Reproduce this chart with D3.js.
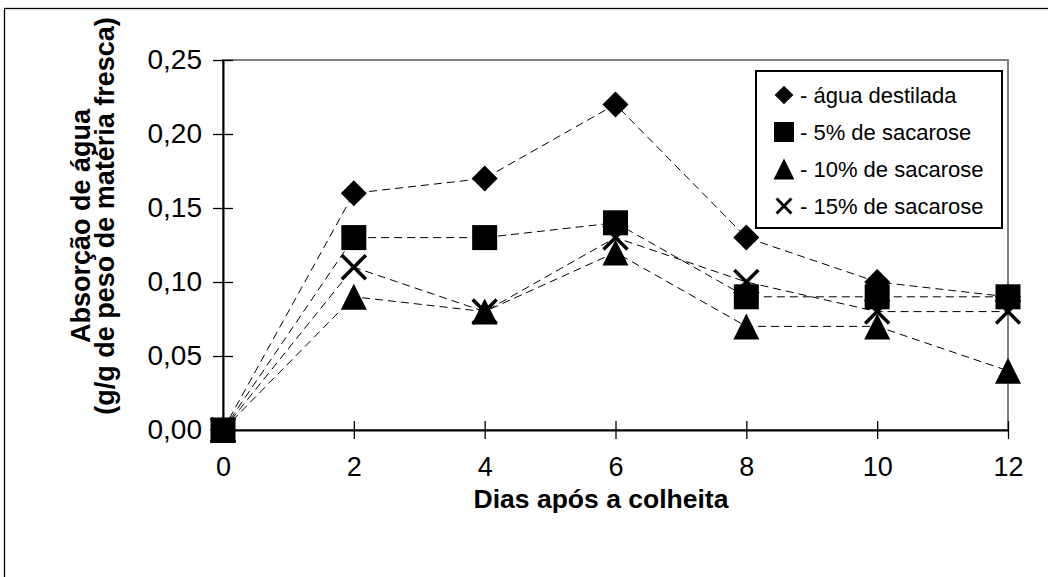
<!DOCTYPE html>
<html><head><meta charset="utf-8">
<script src="https://cdn.jsdelivr.net/npm/d3@7"></script>
<style>
html,body{margin:0;padding:0;background:#fff;}
svg{display:block;font-family:"Liberation Sans",Arial,sans-serif;}
</style></head>
<body>
<svg id="c" width="1048" height="577"></svg>
<script>
const days = [0, 2, 4, 6, 8, 10, 12];
const agua = [0, 0.16, 0.17, 0.22, 0.13, 0.10, 0.09];
const sac5 = [0, 0.13, 0.13, 0.14, 0.09, 0.09, 0.09];
const sac10 = [0, 0.09, 0.08, 0.12, 0.07, 0.07, 0.04];
const sac15 = [0, 0.11, 0.08, 0.13, 0.10, 0.08, 0.08];
const yTicks = [0, 0.05, 0.10, 0.15, 0.20, 0.25];
const xTicks = [0, 2, 4, 6, 8, 10, 12];
const seriesNames = ["- água destilada", "- 5% de sacarose", "- 10% de sacarose", "- 15% de sacarose"];
const xTitle = "Dias após a colheita";
const yTitle1 = "Absorção de água";
const yTitle2 = "(g/g de peso de matéria fresca)";

const series = [
  {name: seriesNames[0], vals: agua, sym: "diamond"},
  {name: seriesNames[1], vals: sac5, sym: "square"},
  {name: seriesNames[2], vals: sac10, sym: "triangle"},
  {name: seriesNames[3], vals: sac15, sym: "cross"}
];

const svg = d3.select("#c");
const x = d3.scaleLinear().domain([0, 12]).range([223, 1008]);
const y = d3.scaleLinear().domain([0, 0.25]).range([430, 60]);

// outer frame
svg.append("rect").attr("x", 4.5).attr("y", 8.5).attr("width", 1100).attr("height", 700)
  .attr("fill", "none").attr("stroke", "#000").attr("stroke-width", 1.3);

// plot area border (gray)
svg.append("rect").attr("x", x(0)).attr("y", y(0.25)).attr("width", x(12) - x(0)).attr("height", y(0) - y(0.25))
  .attr("fill", "none").attr("stroke", "#808080").attr("stroke-width", 2);

// axes
const yAxis = d3.axisLeft(y).tickValues(yTicks).tickSize(0).tickPadding(21)
  .tickFormat(d => d3.format(".2f")(d).replace(".", ","));
const gy = svg.append("g").attr("transform", `translate(${x(0)},0)`).call(yAxis);
gy.select(".domain").attr("stroke", "#000").attr("stroke-width", 2);
gy.selectAll(".tick text").attr("font-size", 28).attr("fill", "#000").attr("font-family", "Liberation Sans, Arial, sans-serif");
gy.selectAll(".tick").append("line").attr("x1", -10).attr("x2", 10).attr("stroke", "#000").attr("stroke-width", 1.3);

const xAxis = d3.axisBottom(x).tickValues(xTicks).tickSize(0).tickPadding(27).tickFormat(d3.format("d"));
const gx = svg.append("g").attr("transform", `translate(0,${y(0)})`).call(xAxis);
gx.select(".domain").attr("stroke", "#000").attr("stroke-width", 2);
gx.selectAll(".tick text").attr("font-size", 27).attr("fill", "#000").attr("font-family", "Liberation Sans, Arial, sans-serif");
gx.selectAll(".tick").append("line").attr("y1", -9).attr("y2", 9).attr("stroke", "#000").attr("stroke-width", 1.3);

// titles
svg.append("text").attr("x", 601).attr("y", 508).attr("text-anchor", "middle")
  .attr("font-size", 26.5).attr("font-weight", "bold").text(xTitle);
const yt = svg.append("text").attr("transform", "rotate(-90)")
  .attr("text-anchor", "middle").attr("font-weight", "bold").attr("font-size", 27);
yt.append("tspan").attr("x", -226).attr("y", 90).text(yTitle1);
yt.append("tspan").attr("x", -216).attr("y", 114).text(yTitle2);

// lines
const line = d3.line().x((d, i) => x(days[i])).y(d => y(d));
series.forEach(s => {
  svg.append("path").datum(s.vals).attr("d", line).attr("fill", "none")
    .attr("stroke", "#000").attr("stroke-width", 1).attr("stroke-dasharray", "8,5");
});

function drawSym(g, sym, cx, cy, scale) {
  const k = scale || 1;
  if (sym === "diamond") {
    const r = 13 * k;
    g.append("path").attr("d", `M${cx},${cy - r}L${cx + r},${cy}L${cx},${cy + r}L${cx - r},${cy}Z`).attr("fill", "#000");
  } else if (sym === "square") {
    const h = 12.5 * k;
    g.append("rect").attr("x", cx - h).attr("y", cy - h).attr("width", 2 * h).attr("height", 2 * h).attr("fill", "#000");
  } else if (sym === "triangle") {
    const w = 13 * k, hh = 13 * k;
    g.append("path").attr("d", `M${cx},${cy - hh}L${cx + w},${cy + hh}L${cx - w},${cy + hh}Z`).attr("fill", "#000");
  } else {
    const r = 12 * k;
    g.append("path").attr("d", `M${cx - r},${cy - r}L${cx + r},${cy + r}M${cx - r},${cy + r}L${cx + r},${cy - r}`)
      .attr("stroke", "#000").attr("stroke-width", 3.5 * Math.min(1, k + 0.2)).attr("fill", "none");
  }
}

// draw order: cross, diamond, triangle, square
const order = [3, 0, 2, 1];
const mg = svg.append("g");
order.forEach(si => {
  const s = series[si];
  s.vals.forEach((v, i) => drawSym(mg, s.sym, x(days[i]), y(v), 1));
});

// legend
const lg = svg.append("g");
lg.append("rect").attr("x", 756).attr("y", 71).attr("width", 246).attr("height", 157)
  .attr("fill", "#fff").attr("stroke", "#000").attr("stroke-width", 2);
const legY = [95, 132, 169, 206];
const legScale = [0.72, 0.8, 0.8, 0.62];
series.forEach((s, i) => {
  drawSym(lg, s.sym, 784, legY[i], legScale[i]);
  lg.append("text").attr("x", 800).attr("y", legY[i] + 8).attr("font-size", 22).text(s.name);
});
</script>
</body></html>
